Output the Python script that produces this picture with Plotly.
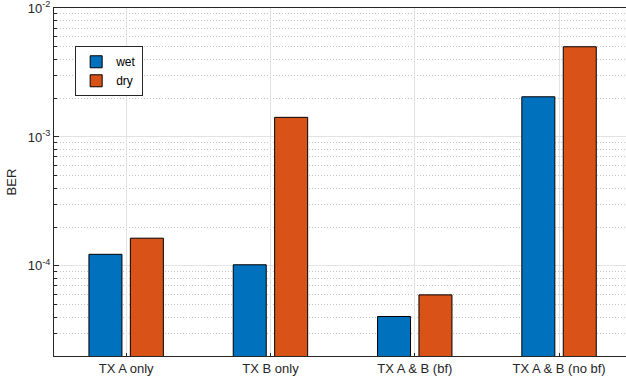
import plotly.graph_objects as go

# Bit error rate per transmitter configuration
categories = ["TX A only", "TX B only", "TX A & B (bf)", "TX A & B (no bf)"]
ber_wet = [1.23e-4, 1.02e-4, 4.05e-5, 2.05e-3]
ber_dry = [1.64e-4, 1.42e-3, 5.96e-5, 5.01e-3]
ytick_vals = [1e-4, 1e-3, 1e-2]
ytick_text = ["10<sup>-4</sup>", "10<sup>-3</sup>", "10<sup>-2</sup>"]
# minor log ticks: 2..9 within each decade
minor_vals = [m * d for d in (1e-5, 1e-4, 1e-3) for m in range(2, 10)]

AX = "#262626"
FONT = "Liberation Sans, Arial, Helvetica, sans-serif"

fig = go.Figure()
fig.add_trace(go.Bar(x=categories, y=ber_wet, name="wet",
                     marker=dict(color="#0072BD", line=dict(color="#000000", width=1))))
fig.add_trace(go.Bar(x=categories, y=ber_dry, name="dry",
                     marker=dict(color="#D95319", line=dict(color="#000000", width=1))))

fig.update_layout(
    width=626, height=385,
    margin=dict(l=54, r=0, t=8, b=29),
    paper_bgcolor="white", plot_bgcolor="white",
    barmode="group", bargap=0.426, bargroupgap=0.203,
    font=dict(family=FONT, size=13, color=AX),
    legend=dict(x=0.037, y=0.89, xanchor="left", yanchor="top",
                bgcolor="white", bordercolor=AX, borderwidth=1,
                font=dict(size=12, color="#000000"),
                tracegroupgap=0, itemwidth=30),
    showlegend=True,
)

fig.update_xaxes(
    type="category", range=[-0.5, 3.464],
    showline=True, linecolor=AX, linewidth=1, mirror=True,
    ticks="inside", ticklen=3, tickcolor=AX,
    showgrid=True, gridcolor="#e3e3e3", gridwidth=1,
    tickfont=dict(size=13, color=AX),
)

fig.update_yaxes(
    type="log", range=[-4.699, -1.9995],
    showline=True, linecolor=AX, linewidth=1, mirror=True,
    tickvals=ytick_vals, ticktext=ytick_text,
    ticklabeloverflow="allow",
    ticks="inside", ticklen=5, tickcolor=AX,
    showgrid=True, gridcolor="#e3e3e3", gridwidth=1,
    minor=dict(tickvals=minor_vals, ticks="inside", ticklen=3, tickcolor=AX,
               showgrid=True, gridcolor="#c4c4c4", griddash="1px,2px", gridwidth=1),
    tickfont=dict(size=13, color=AX),
    title=dict(text="BER", font=dict(size=13, color=AX), standoff=8),
    zeroline=False,
)

fig.write_html("out.html")
